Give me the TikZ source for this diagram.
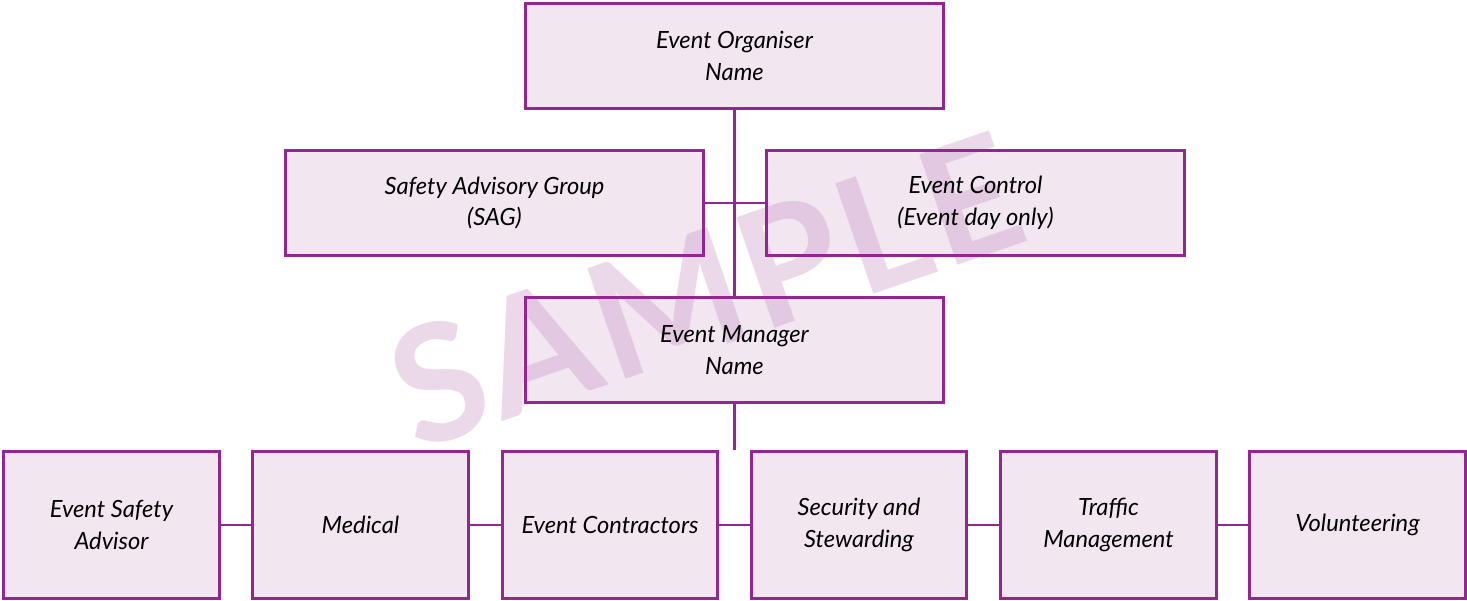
\documentclass[tikz,border=0pt]{standalone}
\usepackage{fontspec}
\setmainfont{Lato}
\usepackage{tikz}
\usetikzlibrary{positioning}
\definecolor{viola}{RGB}{147,39,143}
\definecolor{rosa}{RGB}{242,231,241}
\definecolor{filigrana}{RGB}{193,136,189}
\pgfdeclarelayer{sfondo}
\pgfdeclarelayer{marchio}
\pgfsetlayers{sfondo,marchio,main}

\begin{document}
\begin{tikzpicture}[x=0.02cm, y=-0.02cm,
    box/.style={draw=viola, line width=1.7pt, minimum width=8.36cm, minimum height=2.12cm,
      align=center, font=\itshape\fontsize{13.5}{18}\selectfont, text=black},
    piccolo/.style={box, minimum width=4.32cm, minimum height=2.94cm},
    link/.style={draw=viola, line width=1.7pt}]
  \useasboundingbox (0,0) rectangle (1467,601);

  % Disegno dei nodi
  \node[box] (org) at (734.5,56) {Event Organiser\\Name};
  \node[box] (sag) at (494.5,203) {Safety Advisory Group\\(SAG)};
  \node[box] (ctrl) at (975.5,203) {Event Control\\(Event day only)};
  \node[box] (mgr) at (734.5,350) {Event Manager\\Name};

  \node[piccolo] (esa) at (111.5,525) {Event Safety\\Advisor};
  \node[piccolo] (med) at (360.5,525) {Medical};
  \node[piccolo] (con) at (610,525) {Event Contractors};
  \node[piccolo] (sec) at (859,525) {Security and\\Stewarding};
  \node[piccolo] (tra) at (1108.5,525) {Traffic\\Management};
  \node[piccolo] (vol) at (1357.5,525) {Volunteering};
  \coordinate (snodo) at (mgr.south |- con.north);

  % Riempimento dei riquadri
  \begin{pgfonlayer}{sfondo}
    \foreach \n in {org,sag,ctrl,mgr,esa,med,con,sec,tra,vol}
      \fill[rosa] (\n.north west) rectangle (\n.south east);
  \end{pgfonlayer}

  % Filigrana
  \begin{pgfonlayer}{marchio}
    \node[rotate=19, text=filigrana, text opacity=0.32,
      font=\bfseries\fontsize{92}{92}\selectfont\addfontfeature{LetterSpace=3}]
      (sample) at (706,290) {SAMPLE};
  \end{pgfonlayer}

  % Disegno degli archi
  \draw[link] (org) -- (mgr);
  \draw[link] (sag) -- (ctrl);
  \draw[link] (mgr) -- (snodo);
  \foreach \a/\b in {esa/med, med/con, con/sec, sec/tra, tra/vol}
    \draw[link] (\a) -- (\b);
\end{tikzpicture}
\end{document}
